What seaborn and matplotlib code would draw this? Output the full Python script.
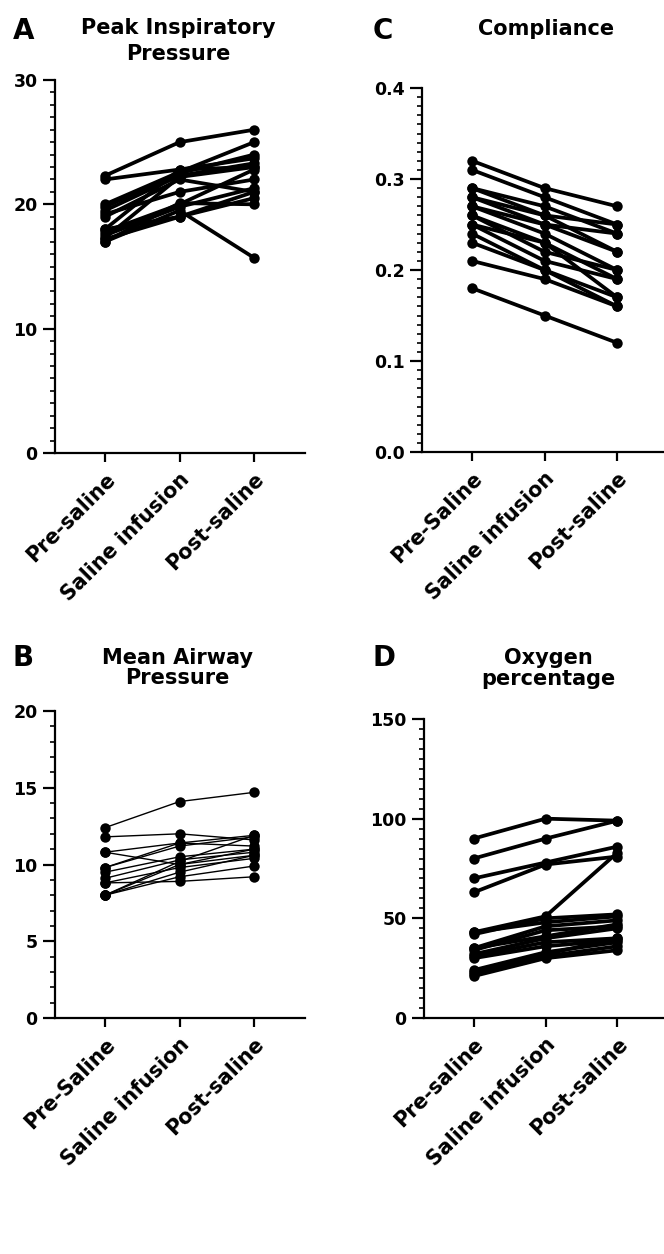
import numpy as np
import pandas as pd
import matplotlib
matplotlib.use("Agg")
import matplotlib.pyplot as plt
import matplotlib.transforms as mtransforms
import seaborn as sns
from matplotlib.ticker import MultipleLocator, FormatStrFormatter

W, H = 664, 1254

# ---- data (one row per subject: pre, during, post) ----
labels_a = ["Pre-saline", "Saline infusion", "Post-saline"]
labels_b = ["Pre-Saline", "Saline infusion", "Post-saline"]
labels_c = ["Pre-Saline", "Saline infusion", "Post-saline"]
labels_d = ["Pre-saline", "Saline infusion", "Post-saline"]

peak_pre = [22.3, 22.0, 20.0, 19.8, 19.5, 19.2, 19.0, 18.0, 17.8, 17.5, 17.3, 17.2, 17.0, 17.0, 18.0]
peak_mid = [25.0, 22.8, 22.6, 22.5, 22.3, 21.0, 22.0, 22.8, 20.0, 19.8, 22.2, 19.0, 19.5, 20.1, 19.0]
peak_post = [26.0, 23.0, 25.0, 24.0, 23.3, 22.0, 21.0, 23.7, 22.8, 21.3, 23.0, 20.5, 15.7, 20.0, 21.0]

comp_pre = [0.32, 0.31, 0.29, 0.29, 0.28, 0.28, 0.27, 0.27, 0.26, 0.26, 0.25, 0.25, 0.24, 0.23, 0.21, 0.18]
comp_mid = [0.29, 0.28, 0.27, 0.26, 0.26, 0.25, 0.24, 0.25, 0.23, 0.22, 0.23, 0.21, 0.20, 0.20, 0.19, 0.15]
comp_post = [0.27, 0.25, 0.24, 0.25, 0.22, 0.24, 0.20, 0.22, 0.19, 0.20, 0.17, 0.19, 0.16, 0.17, 0.16, 0.12]

map_pre = [12.4, 11.8, 10.8, 10.8, 9.8, 9.5, 9.1, 8.8, 8.8, 8.0, 8.0, 8.0, 8.0, 9.8]
map_mid = [14.1, 12.0, 11.4, 10.0, 11.4, 10.5, 10.3, 8.9, 9.8, 10.2, 9.5, 9.2, 10.0, 11.2]
map_post = [14.7, 11.6, 11.9, 10.6, 11.2, 11.0, 10.8, 9.2, 10.4, 11.9, 10.6, 9.9, 11.0, 11.8]

oxy_pre = [90, 80, 70, 63, 43, 42, 43, 35, 34, 32, 31, 30, 24, 23, 21, 22, 35]
oxy_mid = [100, 90, 78, 77, 51, 50, 48, 46, 44, 40, 38, 36, 33, 31, 30, 32, 41]
oxy_post = [99, 99, 86, 81, 83, 52, 51, 49, 46, 45, 40, 39, 38, 36, 34, 40, 47]


def long_form(pre, mid, post):
    rows = []
    for i, vals in enumerate(zip(pre, mid, post)):
        for pos, v in enumerate(vals):
            rows.append({"subject": i, "pos": pos, "value": v})
    return pd.DataFrame(rows)


sns.set_theme(style="ticks")
plt.rcParams["font.family"] = ["DejaVu Sans"]
plt.rcParams["font.weight"] = "bold"
plt.rcParams["text.color"] = "black"
plt.rcParams["xtick.color"] = "black"
plt.rcParams["ytick.color"] = "black"

fig = plt.figure(figsize=(W / 100, H / 100), dpi=100)
# nudge rotated category labels a little left/down
label_shift = mtransforms.ScaledTranslation(-0.08, -0.04, fig.dpi_scale_trans)


def add_ax(l, r, t, b):
    return fig.add_axes([l / W, 1 - b / H, (r - l) / W, (b - t) / H])


def draw_panel(ax, df, labels, ylim, major, minor, lw, xlim, fmt=None):
    sns.lineplot(data=df, x="pos", y="value", units="subject", estimator=None,
                 color="black", marker="o", markersize=7.5, markeredgewidth=0,
                 linewidth=lw, ax=ax, legend=False, sort=True)
    ax.set_xlim(*xlim)
    ax.set_ylim(*ylim)
    ax.set_xticks(range(len(labels)))
    ax.set_xticklabels(labels, rotation=45, ha="right", va="top",
                       rotation_mode="anchor", fontsize=14.8, fontweight="bold")
    for lab in ax.get_xticklabels():
        lab.set_transform(lab.get_transform() + label_shift)
    ax.yaxis.set_major_locator(MultipleLocator(major))
    ax.yaxis.set_minor_locator(MultipleLocator(minor))
    if fmt:
        ax.yaxis.set_major_formatter(FormatStrFormatter(fmt))
    for lab in ax.get_yticklabels():
        lab.set_fontweight("bold")
        lab.set_fontsize(12.5)
    ax.set_xlabel("")
    ax.set_ylabel("")
    sns.despine(ax=ax)
    for s in ["left", "bottom"]:
        ax.spines[s].set_linewidth(1.6)
        ax.spines[s].set_color("black")
    ax.tick_params(axis="y", which="major", length=8.5, width=1.6, pad=4, colors="black")
    ax.tick_params(axis="y", which="minor", length=3.8, width=1.2, colors="black")
    ax.tick_params(axis="x", which="major", length=6.5, width=1.6, pad=5, colors="black")
    ax.set_facecolor("white")


ax_a = add_ax(55, 305, 80, 453)
draw_panel(ax_a, long_form(peak_pre, peak_mid, peak_post), labels_a,
           (0, 30), 10, 1, 2.7, (-0.671, 2.684))

ax_c = add_ax(422, 670, 88, 452)
draw_panel(ax_c, long_form(comp_pre, comp_mid, comp_post), labels_c,
           (0, 0.4), 0.1, 0.01, 2.7, (-0.69, 2.73), fmt="%.1f")

ax_b = add_ax(55, 305, 711, 1018)
draw_panel(ax_b, long_form(map_pre, map_mid, map_post), labels_b,
           (0, 20), 5, 1, 1.0, (-0.671, 2.684))

ax_d = add_ax(424, 670, 719, 1018)
draw_panel(ax_d, long_form(oxy_pre, oxy_mid, oxy_post), labels_d,
           (0, 150), 50, 5, 2.7, (-0.69, 2.73))


def ftext(x, y, s, size):
    fig.text(x / W, 1 - y / H, s, fontsize=size, fontweight="bold",
             color="black", ha="center", va="center")


# panel letters
ftext(24, 31, "A", 20)
ftext(383, 31, "C", 20)
ftext(23, 658, "B", 20)
ftext(384, 658, "D", 20)

# titles
ftext(178, 28, "Peak Inspiratory", 15)
ftext(178, 54, "Pressure", 15)
ftext(546, 29, "Compliance", 15)
ftext(177, 658, "Mean Airway", 15)
ftext(177, 678, "Pressure", 15)
ftext(548, 658, "Oxygen", 15)
ftext(548, 679, "percentage", 15)

fig.savefig("out.png", dpi=100, facecolor="white")
